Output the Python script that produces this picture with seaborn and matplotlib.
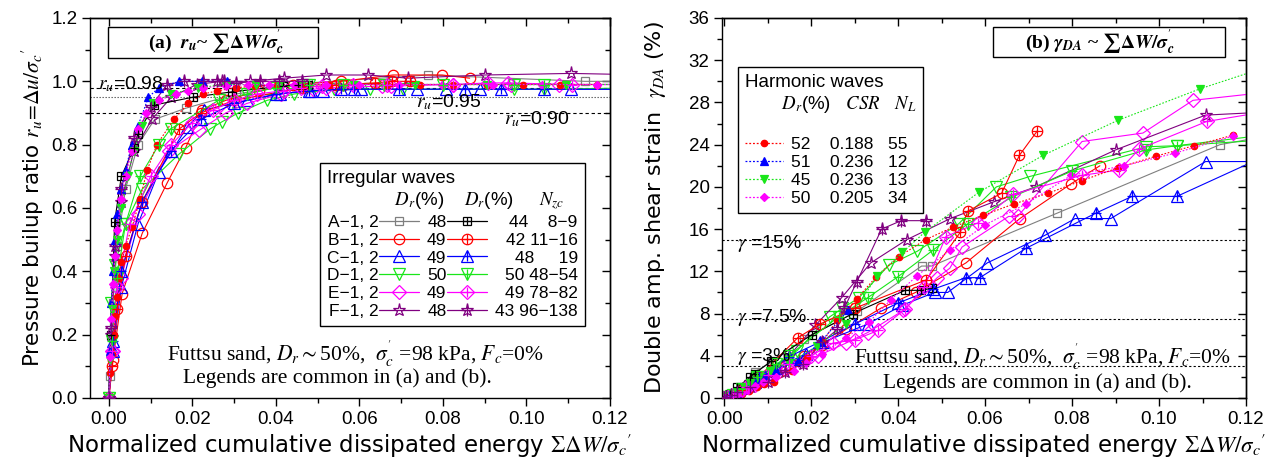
import matplotlib
matplotlib.use("Agg")
import matplotlib.pyplot as plt
import seaborn as sns
from matplotlib.lines import Line2D
from matplotlib.patches import Rectangle
from matplotlib.ticker import MultipleLocator, FormatStrFormatter
from matplotlib.offsetbox import DrawingArea

# ---------------- data ----------------
A1_x = [0, 0.0003, 0.001, 0.002, 0.004, 0.007, 0.011, 0.0184, 0.0305, 0.0454, 0.0477, 0.0765, 0.114, 0.13]
A1_ru = [0, 0.07, 0.30, 0.48, 0.66, 0.80, 0.88, 0.915, 0.96, 0.99, 0.995, 1.02, 1.0, 1.0]
A1_g = [0, 0.05, 0.2, 0.4, 0.9, 2.5, 3.4, 5.6, 8.2, 12.5, 12.5, 17.5, 24.0, 25.2]

A2_x = [0, 0.0005, 0.0014, 0.003, 0.006, 0.007, 0.0108, 0.0202, 0.0296, 0.0416, 0.0453, 0.0477]
A2_ru = [0, 0.20, 0.557, 0.70, 0.788, 0.835, 0.925, 0.95, 0.967, 0.985, 0.99, 0.99]
A2_g = [0, 0.15, 0.4, 1.0, 2.0, 2.3, 3.5, 6.0, 8.0, 10.2, 10.2, 10.4]

B1_x = [0, 0.001, 0.0032, 0.008, 0.014, 0.0184, 0.0224, 0.028, 0.036, 0.044, 0.0556, 0.068, 0.0798, 0.0864]
B1_ru = [0, 0.12, 0.33, 0.52, 0.68, 0.79, 0.91, 0.94, 0.97, 0.99, 1.0, 1.02, 1.02, 1.01]
B1_g = [0, 0.1, 0.4, 1.5, 3.0, 4.0, 5.0, 6.5, 8.5, 10.0, 12.8, 17.0, 20.3, 22.0]

B2_x = [0, 0.0008, 0.002, 0.004, 0.008, 0.0169, 0.022, 0.030, 0.0465, 0.0543, 0.056, 0.0638, 0.0679, 0.072]
B2_ru = [0, 0.10, 0.28, 0.45, 0.62, 0.85, 0.90, 0.94, 0.98, 0.99, 0.99, 0.995, 1.0, 1.0]
B2_g = [0, 0.1, 0.3, 0.8, 2.0, 5.7, 7.0, 8.5, 11.2, 15.7, 17.7, 19.4, 23.0, 25.3]

C1_x = [0, 0.001, 0.003, 0.007, 0.012, 0.0188, 0.0228, 0.033, 0.041, 0.0484, 0.0514, 0.0605, 0.0737, 0.0807, 0.0889, 0.1107, 0.13]
C1_ru = [0, 0.15, 0.35, 0.55, 0.715, 0.857, 0.91, 0.94, 0.96, 0.97, 0.97, 0.975, 0.975, 0.975, 0.975, 0.975, 0.975]
C1_g = [0, 0.1, 0.5, 1.5, 2.8, 4.2, 5.3, 7.0, 8.8, 10.0, 10.0, 12.8, 15.4, 17.0, 17.0, 22.4, 22.4]

C2_x = [0, 0.001, 0.003, 0.008, 0.0148, 0.022, 0.030, 0.040, 0.048, 0.0556, 0.0588, 0.0695, 0.0854, 0.0938, 0.1041, 0.128]
C2_ru = [0, 0.18, 0.40, 0.62, 0.78, 0.88, 0.93, 0.96, 0.97, 0.975, 0.975, 0.975, 0.975, 0.975, 0.975, 0.975]
C2_g = [0, 0.15, 0.6, 2.0, 3.9, 5.3, 7.0, 9.0, 10.3, 11.4, 11.4, 14.2, 17.5, 19.1, 19.1, 23.6]

D1_x = [0, 0.0005, 0.0015, 0.004, 0.008, 0.0168, 0.0243, 0.0272, 0.031, 0.0379, 0.0444, 0.0539, 0.0626, 0.0704, 0.0971, 0.1041, 0.13]
D1_ru = [0, 0.30, 0.42, 0.55, 0.66, 0.77, 0.85, 0.873, 0.90, 0.94, 0.96, 0.975, 0.975, 0.975, 0.975, 0.975, 0.98]
D1_g = [0, 0.05, 0.2, 0.8, 2.0, 4.5, 7.7, 8.5, 9.5, 12.6, 13.9, 16.5, 20.0, 21.0, 23.8, 23.9, 25.2]

D2_x = [0, 0.0008, 0.002, 0.004, 0.0075, 0.012, 0.0148, 0.0263, 0.033, 0.040, 0.048, 0.056, 0.066, 0.080, 0.097, 0.1041, 0.13]
D2_ru = [0, 0.18, 0.38, 0.55, 0.70, 0.80, 0.85, 0.94, 0.96, 0.98, 0.99, 0.99, 0.99, 0.99, 0.99, 0.99, 0.99]
D2_g = [0, 0.1, 0.3, 0.9, 2.0, 3.2, 4.0, 7.7, 9.5, 11.5, 14.0, 16.5, 19.0, 21.5, 23.5, 23.9, 24.6]

E1_x = [0, 0.001, 0.003, 0.007, 0.0144, 0.0216, 0.028, 0.033, 0.0412, 0.049, 0.0519, 0.0547, 0.0654, 0.0675, 0.0823, 0.0963, 0.1078, 0.13]
E1_ru = [0, 0.15, 0.38, 0.58, 0.78, 0.845, 0.90, 0.93, 0.96, 0.975, 0.98, 0.98, 0.985, 0.985, 0.99, 0.99, 0.99, 0.99]
E1_g = [0, 0.1, 0.4, 1.2, 2.8, 4.0, 5.2, 6.2, 8.3, 11.4, 12.3, 14.3, 17.2, 17.2, 24.3, 25.1, 28.2, 29.2]

E2_x = [0, 0.0008, 0.002, 0.005, 0.010, 0.015, 0.020, 0.025, 0.030, 0.0354, 0.0416, 0.046, 0.051, 0.0584, 0.0665, 0.0823, 0.0909, 0.0955, 0.111, 0.13]
E2_ru = [0, 0.15, 0.35, 0.55, 0.70, 0.80, 0.87, 0.91, 0.94, 0.96, 0.97, 0.98, 0.985, 0.99, 0.99, 0.99, 0.995, 0.995, 0.99, 0.99]
E2_g = [0, 0.1, 0.3, 1.0, 2.2, 3.2, 4.0, 5.2, 5.5, 6.4, 8.4, 10.5, 15.3, 16.6, 19.3, 21.1, 21.6, 23.6, 26.2, 27.5]

F1_x = [0, 0.0005, 0.0015, 0.003, 0.006, 0.0103, 0.015, 0.021, 0.027, 0.0337, 0.042, 0.052, 0.0621, 0.0716, 0.090, 0.1107, 0.13]
F1_ru = [0, 0.20, 0.45, 0.62, 0.78, 0.88, 0.95, 0.99, 1.0, 1.0, 1.01, 1.02, 1.02, 1.01, 1.02, 1.025, 1.02]
F1_g = [0, 0.1, 0.3, 0.7, 1.5, 2.4, 4.0, 6.9, 9.5, 12.8, 15.0, 17.0, 18.6, 20.0, 23.5, 26.8, 27.2]

F2_x = [0, 0.0005, 0.0015, 0.003, 0.006, 0.010, 0.014, 0.0181, 0.0226, 0.026, 0.0276, 0.0305, 0.0362, 0.0407, 0.0463]
F2_ru = [0, 0.22, 0.48, 0.66, 0.82, 0.92, 0.99, 1.0, 1.0, 1.0, 1.0, 0.995, 1.0, 1.0, 1.0]
F2_g = [0, 0.1, 0.3, 0.6, 1.0, 1.5, 2.5, 3.2, 5.3, 6.5, 8.5, 11.0, 16.0, 16.8, 16.8]

H52_x = [0, 0.0004, 0.0008, 0.0012, 0.0016, 0.002, 0.0024, 0.003, 0.004, 0.0056, 0.0075, 0.0092, 0.0115, 0.0156, 0.019,
         0.0226, 0.026, 0.0305, 0.035, 0.0402, 0.0463, 0.0527, 0.0595, 0.0667, 0.0745, 0.0823, 0.0905, 0.0992, 0.108, 0.117]
H52_ru = [0, 0.08, 0.14, 0.20, 0.26, 0.32, 0.38, 0.43, 0.48, 0.54, 0.63, 0.72, 0.80, 0.88, 0.93,
          0.96, 0.97, 0.98, 0.985, 0.99, 0.99, 0.99, 0.99, 0.99, 0.99, 0.99, 0.99, 0.99, 0.99, 0.99]
H52_g = [0, 0.02, 0.04, 0.06, 0.08, 0.1, 0.15, 0.2, 0.4, 0.7, 1.0, 1.3, 1.5, 2.6, 3.8,
         5.3, 7.4, 9.4, 11.5, 13.4, 15.0, 16.2, 17.3, 18.4, 19.4, 20.6, 21.8, 22.9, 23.9, 24.9]

H51_x = [0, 0.0003, 0.0006, 0.001, 0.0015, 0.002, 0.003, 0.004, 0.0055, 0.007, 0.0095, 0.012, 0.0169, 0.0222, 0.0284]
H51_ru = [0, 0.15, 0.30, 0.40, 0.50, 0.58, 0.66, 0.72, 0.80, 0.86, 0.95, 0.98, 1.0, 1.0, 1.0]
H51_g = [0, 0.03, 0.06, 0.1, 0.2, 0.3, 0.5, 0.8, 1.2, 1.7, 2.2, 2.7, 3.5, 5.3, 8.3]

H45_x = [0, 0.0003, 0.0007, 0.0012, 0.002, 0.003, 0.0045, 0.006, 0.008, 0.0105, 0.0148, 0.0214, 0.028, 0.0352,
         0.041, 0.0461, 0.0586, 0.0734, 0.0905, 0.1095, 0.128]
H45_ru = [0, 0.12, 0.28, 0.40, 0.50, 0.60, 0.70, 0.78, 0.86, 0.93, 0.96, 0.98, 0.99, 0.99,
          0.99, 0.99, 0.99, 0.99, 0.99, 0.99, 0.99]
H45_g = [0, 0.05, 0.1, 0.2, 0.4, 0.6, 1.0, 1.4, 2.0, 2.6, 3.3, 4.9, 7.0, 11.6,
         13.8, 15.7, 19.5, 23.0, 26.3, 29.3, 31.8]

H50_x = [0, 0.0003, 0.0006, 0.001, 0.0015, 0.002, 0.003, 0.004, 0.0055, 0.007, 0.009, 0.012, 0.016,
         0.0189, 0.0226, 0.028, 0.0333, 0.0383, 0.0444, 0.0519, 0.060, 0.0695, 0.0798, 0.092, 0.1037, 0.1169]
H50_ru = [0, 0.13, 0.25, 0.36, 0.45, 0.53, 0.63, 0.70, 0.78, 0.85, 0.90, 0.94, 0.96,
          0.97, 0.98, 0.985, 0.99, 0.99, 0.99, 0.99, 0.99, 0.99, 0.99, 0.99, 0.99, 0.99]
H50_g = [0, 0.02, 0.04, 0.08, 0.12, 0.2, 0.3, 0.5, 0.8, 1.1, 1.5, 2.0, 2.6,
         3.3, 4.2, 5.7, 7.2, 9.3, 11.6, 14.0, 16.4, 18.4, 21.1, 22.0, 23.2, 24.8]

irr_names = ["A", "B", "C", "D", "E", "F"]
irr_dr1 = ["48", "49", "49", "50", "49", "48"]
irr_dr2 = ["44", "42", "48", "50", "49", "43"]
irr_nzc = ["8\u22129", "11\u221216", "19", "48\u221254", "78\u221282", "96\u2212138"]

harm_dr = ["52", "51", "45", "50"]
harm_csr = ["0.188", "0.236", "0.236", "0.205"]
harm_nl = ["55", "12", "13", "34"]

ru_levels = [0.98, 0.95, 0.90]
gamma_levels = [15, 7.5, 3]

# ---------------- styles ----------------
GRAY, BLACK, RED, BLUE, GREEN, MAG, PURP = "#7f7f7f", "#000000", "#ff0000", "#0000ff", "#19e619", "#ff00ff", "#800080"

irregular = [
    # (x, ru, gamma, color, marker, ms, crossed)
    (A1_x, A1_ru, A1_g, GRAY, "s", 6.3, False),
    (B1_x, B1_ru, B1_g, RED, "o", 7.5, False),
    (C1_x, C1_ru, C1_g, BLUE, "^", 8.5, False),
    (D1_x, D1_ru, D1_g, GREEN, "v", 8.5, False),
    (E1_x, E1_ru, E1_g, MAG, "D", 7.5, False),
    (F1_x, F1_ru, F1_g, PURP, "*", 9.5, False),
    (A2_x, A2_ru, A2_g, BLACK, "s", 6.3, True),
    (B2_x, B2_ru, B2_g, RED, "o", 7.5, True),
    (C2_x, C2_ru, C2_g, BLUE, "^", 8.5, True),
    (D2_x, D2_ru, D2_g, GREEN, "v", 8.5, True),
    (E2_x, E2_ru, E2_g, MAG, "D", 7.5, True),
    (F2_x, F2_ru, F2_g, PURP, "*", 9.5, True),
]
harmonic = [
    (H52_x, H52_ru, H52_g, RED, "o", 4.6),
    (H51_x, H51_ru, H51_g, BLUE, "^", 5.2),
    (H45_x, H45_ru, H45_g, GREEN, "v", 5.2),
    (H50_x, H50_ru, H50_g, MAG, "D", 4.3),
]

sns.set_theme(style="ticks")
plt.rcParams["font.family"] = ["Liberation Sans", "DejaVu Sans"]
plt.rcParams["mathtext.fontset"] = "stix"
plt.rcParams["axes.linewidth"] = 1.0
plt.rcParams["axes.edgecolor"] = "black"
plt.rcParams["axes.labelcolor"] = "black"
plt.rcParams["text.color"] = "black"
plt.rcParams["xtick.color"] = "black"
plt.rcParams["ytick.color"] = "black"
plt.rcParams["xtick.labelcolor"] = "black"
plt.rcParams["ytick.labelcolor"] = "black"
SERIF = ["Liberation Serif", "DejaVu Serif"]
LABELFONT = ["DejaVu Sans"]

fig = plt.figure(figsize=(12.71, 4.70), dpi=100)
W, H = 1271, 470
axA = fig.add_axes([90 / W, 72 / H, 520 / W, 380 / H])
axB = fig.add_axes([722 / W, 72 / H, 524 / W, 380 / H])

LW = 0.8
MEW = 0.9
HARM_LS = (0, (1.5, 1.5))


def draw_series(ax, x, y, color, marker, ms, mfc, ls, crossed):
    sns.lineplot(x=x, y=y, ax=ax, color=color, marker=marker, markersize=ms,
                 markerfacecolor=mfc, markeredgecolor=color, markeredgewidth=MEW,
                 linestyle=ls, linewidth=LW, sort=False, estimator=None,
                 errorbar=None, legend=False)
    if crossed:
        sns.scatterplot(x=x, y=y, ax=ax, marker="+", s=(ms * 0.9) ** 2, color=color,
                        linewidth=MEW, legend=False, zorder=3)


for ax, idx in ((axA, 1), (axB, 2)):
    for s in irregular:
        draw_series(ax, s[0], s[idx], s[3], s[4], s[5], "none", "-", s[6])
    for s in harmonic:
        draw_series(ax, s[0], s[idx], s[3], s[4], s[5], s[3], HARM_LS, False)


def style_axes(ax, xmaj, xmin, ymaj, ymin, yfmt):
    ax.xaxis.set_major_locator(MultipleLocator(xmaj))
    ax.xaxis.set_minor_locator(MultipleLocator(xmin))
    ax.yaxis.set_major_locator(MultipleLocator(ymaj))
    ax.yaxis.set_minor_locator(MultipleLocator(ymin))
    ax.xaxis.set_major_formatter(FormatStrFormatter("%.2f"))
    ax.yaxis.set_major_formatter(FormatStrFormatter(yfmt))
    ax.tick_params(which="both", direction="out", top=False, right=False, width=1.0,
                   labelsize=13.5, pad=3, colors="black")
    ax.tick_params(which="major", length=6)
    ax.tick_params(which="minor", length=3.5)
    sx = ax.secondary_xaxis("top")
    sx.xaxis.set_major_locator(MultipleLocator(xmaj))
    sx.xaxis.set_minor_locator(MultipleLocator(xmin))
    sx.tick_params(which="both", direction="in", labeltop=False, width=1.0)
    sx.tick_params(which="major", length=6)
    sx.tick_params(which="minor", length=3.5)
    sy = ax.secondary_yaxis("right")
    sy.yaxis.set_major_locator(MultipleLocator(ymaj))
    sy.yaxis.set_minor_locator(MultipleLocator(ymin))
    sy.tick_params(which="both", direction="in", labelright=False, width=1.0)
    sy.tick_params(which="major", length=6)
    sy.tick_params(which="minor", length=3.5)
    for sp in ax.spines.values():
        sp.set_color("black")
        sp.set_linewidth(1.0)


def title_box(ax, x0, x1, y0, y1, tx, text):
    ax.add_patch(Rectangle((x0, y0), x1 - x0, y1 - y0, transform=ax.transAxes, fc="white",
                           ec="black", lw=1.0, zorder=6, clip_on=False))
    ax.text(tx, (y0 + y1) / 2, text, transform=ax.transAxes, ha="center", va="center",
            fontsize=14, fontweight="bold", family=SERIF, zorder=7)


XLABEL = r"Normalized cumulative dissipated energy $\Sigma\Delta W/\sigma_c{}'$"

# ---------------- panel (a) ----------------
axA.set_xlim(-0.0045, 0.12)
axA.set_ylim(0, 1.2)
style_axes(axA, 0.02, 0.01, 0.2, 0.1, "%.1f")
axA.set_xlabel(XLABEL, fontsize=16.5, labelpad=3, family=LABELFONT)
axA.set_ylabel(r"Pressure builup ratio $r_u\!=\!\Delta u/\sigma_c{}'$", fontsize=15.5, labelpad=4, family=LABELFONT)

lstyles = [(0, (3, 2.5)), (0, (1.2, 1.5)), (0, (3, 2.5))]
lcolors = ["black", "#555555", "black"]
for lv, ls_, lc in zip(ru_levels, lstyles, lcolors):
    axA.axhline(lv, color=lc, lw=0.8, ls=ls_, zorder=1)
axA.text(0.015, 0.99, r"$r_u$=0.98", transform=axA.get_yaxis_transform(), fontsize=14, va="center", ha="left")
axA.text(0.0735, 0.935, r"$r_u$=0.95", fontsize=14, va="center", ha="left")
axA.text(0.0946, 0.882, r"$r_u$=0.90", fontsize=14, va="center", ha="left")

title_box(axA, 0.0346, 0.4385, 0.895, 0.976, 0.2423,
          r"(a)  $\mathbfit{r}_{\mathbfit{u}}$~ $\mathbf{\sum\Delta}\mathbfit{W}\mathbf{/}\mathbfit{\sigma}^{\mathbf{'}}_{\mathbfit{c}}$")

FUTTSU = r"Futtsu sand, $D_r$$\sim$50%,  $\sigma^{'}_{c}$ =98 kPa, $F_c$=0%"
LEGNOTE = "Legends are common in (a) and (b)."
axA.text(0.51, 0.118, FUTTSU, transform=axA.transAxes, ha="center", va="center", fontsize=15.5, family=SERIF)
axA.text(0.475, 0.053, LEGNOTE, transform=axA.transAxes, ha="center", va="center", fontsize=15.5, family=SERIF)


# legend (a)
def key(color, marker, ms, mfc, ls, crossed):
    ln = Line2D([], [], color=color, marker=marker, markersize=ms, markerfacecolor=mfc,
                markeredgecolor=color, markeredgewidth=MEW, linestyle=ls, linewidth=0.9)
    if crossed:
        cr = Line2D([], [], color=color, marker="+", markersize=ms * 0.9, linestyle="none",
                    markeredgewidth=MEW)
        return (ln, cr)
    return ln


blank = Line2D([], [], color="none")
h1 = [key(s[3], s[4], s[5], "none", "-", False) for s in irregular[:6]]
h2 = [key(s[3], s[4], s[5], "none", "-", True) for s in irregular[6:]]
lab1 = [f"{n}\u22121, 2" for n in irr_names]
lab2 = list(irr_dr1)
pad_n = {"8\u22129": "   ", "19": "    "}
lab3 = [f"{d} {pad_n.get(n, '')}{n}" for d, n in zip(irr_dr2, irr_nzc)]
titleA = "Irregular waves\n" + " " * 13 + r"$D_r$(%)" + " " * 4 + r"$D_r$(%)" + " " * 5 + r"$N_{zc}$"
legA = axA.legend(h1 + h2 + [blank] * 6, lab1 + lab2 + lab3, ncol=3, markerfirst=False,
                  loc="upper left", bbox_to_anchor=(0.442, 0.618), borderaxespad=0,
                  handlelength=2.3, handletextpad=0.05, columnspacing=0.45, labelspacing=0.16,
                  fontsize=12.5, title=titleA, title_fontsize=13.5, alignment="left",
                  frameon=True, fancybox=False, edgecolor="black", framealpha=1, borderpad=0.4)
legA.get_frame().set_linewidth(1.0)
cols = legA._legend_handle_box.get_children()
for row in cols[2].get_children():
    for ch in row.get_children():
        if isinstance(ch, DrawingArea):
            ch.width = 0

# ---------------- panel (b) ----------------
axB.set_xlim(-0.0005, 0.12)
axB.set_ylim(0, 36)
style_axes(axB, 0.02, 0.01, 4, 2, "%d")
axB.set_xlabel(XLABEL, fontsize=16.5, labelpad=3, family=LABELFONT)
axB.set_ylabel(r"Double amp. shear strain  $\gamma_{DA}$ (%)", fontsize=16, labelpad=15, family=LABELFONT)

for lv in gamma_levels:
    axB.axhline(lv, color="black", lw=0.8, ls=(0, (2, 2)), zorder=1)
axB.text(0.029, 14.6, r"$\gamma$ =15%", transform=axB.get_yaxis_transform(), fontsize=14, va="center")
axB.text(0.029, 7.6, r"$\gamma$ =7.5%", transform=axB.get_yaxis_transform(), fontsize=14, va="center")
axB.text(0.029, 3.9, r"$\gamma$ =3%", transform=axB.get_yaxis_transform(), fontsize=14, va="center")

title_box(axB, 0.517, 0.960, 0.8975, 0.976, 0.7214,
          r"(b) $\mathbfit{\gamma}_{\mathbfit{DA}}$ ~ $\mathbf{\sum\Delta}\mathbfit{W}\mathbf{/}\mathbfit{\sigma}^{\mathbf{'}}_{\mathbfit{c}}$")

axB.text(0.611, 0.108, FUTTSU, transform=axB.transAxes, ha="center", va="center", fontsize=15.5, family=SERIF)
axB.text(0.601, 0.039, LEGNOTE, transform=axB.transAxes, ha="center", va="center", fontsize=15.5, family=SERIF)

hb = [key(s[3], s[4], s[5], s[3], HARM_LS, False) for s in harmonic]
labb = [f"{d}    {c}   {n}" for d, c, n in zip(harm_dr, harm_csr, harm_nl)]
titleB = "Harmonic waves\n" + " " * 7 + r"$D_r$(%)" + " " * 3 + r"$CSR$" + " " * 3 + r"$N_L$" + "\n "
legB = axB.legend(hb, labb, loc="upper left", bbox_to_anchor=(0.0305, 0.871), borderaxespad=0,
                  handlelength=2.2, handletextpad=0.45, labelspacing=0.16, fontsize=12.5,
                  title=titleB, title_fontsize=13.5, alignment="left",
                  frameon=True, fancybox=False, edgecolor="black", framealpha=1, borderpad=0.4)
legB.get_frame().set_linewidth(1.0)

fig.savefig("out.png", dpi=100)
